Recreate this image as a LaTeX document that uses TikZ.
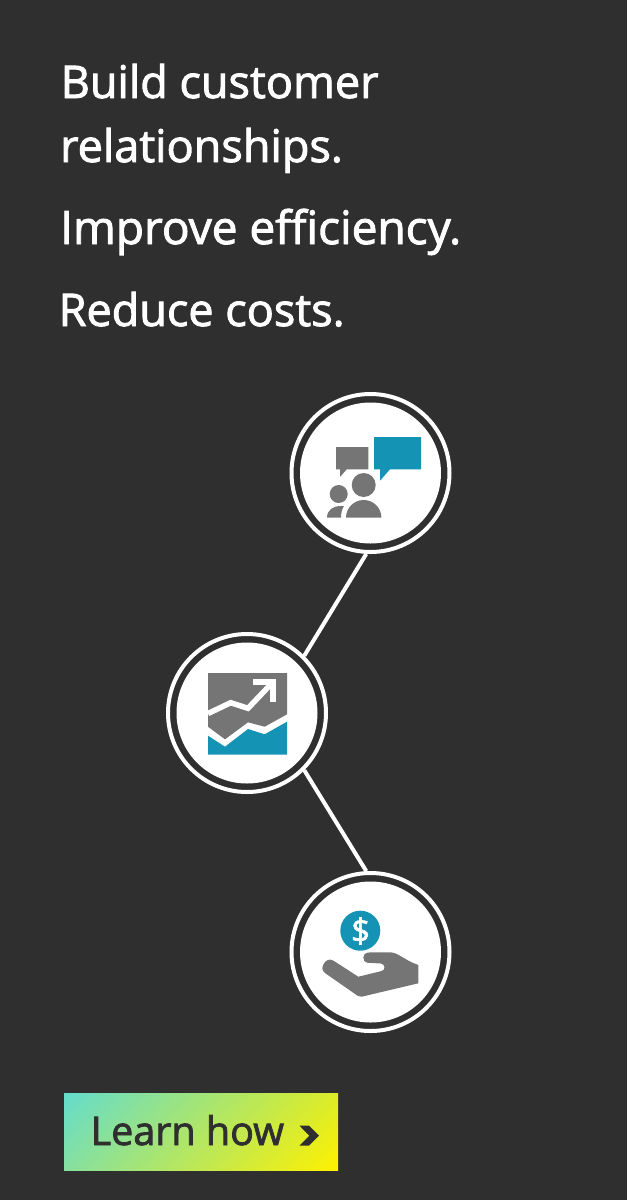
\documentclass[tikz,border=0pt]{standalone}
\usepackage{fontspec}
\usetikzlibrary{shadings}
\setmainfont{Open Sans}[FakeBold=2]
\newfontfamily\dollarfont{Open Sans}[FakeBold=2]
\definecolor{bg}{RGB}{47,47,47}
\definecolor{iconblue}{RGB}{20,147,181}
\definecolor{icongray}{RGB}{117,117,117}
\definecolor{gUL}{RGB}{100,220,205}
\definecolor{gUR}{RGB}{220,236,40}
\definecolor{gLL}{RGB}{133,224,160}
\definecolor{gLR}{RGB}{255,241,0}
\tikzset{
  ring/.style={circle,draw=white,line width=4pt,fill=bg,inner sep=0pt,minimum size=158pt},
  disc/.style={circle,fill=white,inner sep=0pt,minimum size=141pt},
  link/.style={draw=white,line width=4pt},
  title/.style={anchor=base west,text=white,inner sep=0pt,font=\fontsize{45}{45}\selectfont},
  gicon/.style={fill=icongray},
  bicon/.style={fill=iconblue}
}
\begin{document}
\begin{tikzpicture}[x=1pt,y=-1pt]
\useasboundingbox (0,0) rectangle (627,1200);
\fill[bg] (0,0) rectangle (627,1200);
\node[title] (t1) at (60.5,98) {Build customer};
\node[title] (t2) at (60,162) {relationships.};
\node[title,font=\fontsize{46}{46}\selectfont] (t3) at (60,244) {Improve efficiency.};
\node[title] (t4) at (58.5,326) {Reduce costs.};
\node[ring] (c1) at (370.5,473) {};
\node[ring] (c2) at (247,713) {};
\node[ring] (c3) at (370.5,952) {};
\node[disc] (d1) at (c1) {};
\node[disc] (d2) at (c2) {};
\node[disc] (d3) at (c3) {};
\draw[link] (c1.-93) -- (c2.45);
\draw[link] (c2.-45) -- (c3.93);
% icon 1
\fill[bicon] (374,437) -- (421,437) -- (421,469.3) -- (390,469.3) -- (380,480.7) -- (380,469.3) -- (374,469.3) -- cycle;
\fill[gicon] (336,447) -- (368.3,447) -- (368.3,469.3) -- (346.7,469.3) -- (340,477) -- (340,469.3) -- (336,469.3) -- cycle;
\fill[gicon] (363.7,485) circle (12);
\fill[gicon] (346,517.7) arc[start angle=180,end angle=360,x radius=17.7,y radius=17.7] -- cycle;
\fill[gicon] (338.7,494) circle (9);
\fill[gicon] (327,517.7) .. controls (327,510) and (333,506) .. (341,506) -- (344,506) .. controls (342,509) and (341,513) .. (341,517.7) -- cycle;
% icon 2
\fill[gicon] (208,673) -- (287,673) -- (287,714.3) -- (264.7,726.7) -- (248,722.3) -- (225,739.3) -- (208,726.7) -- cycle;
\fill[bicon] (208,735.7) -- (225,746.7) -- (248,729) -- (264.7,734.3) -- (287,721.7) -- (287,754.7) -- (208,754.7) -- cycle;
\draw[white,line width=5.5pt] (208,713.5) -- (230.7,702.7) -- (248,708.3) -- (273,682);
\draw[white,line width=6pt,miter limit=10] (253,681.7) -- (273,681.7) -- (273,702);
% icon 3
\fill[bicon] (360.3,930.7) circle (20);
\node[text=white,inner sep=0pt,font=\dollarfont\fontsize{33}{33}\selectfont] (dollar) at (360.6,931) {\$};
\fill[gicon] (418.3,965) -- (418.3,983.3) -- (361.7,996.7) .. controls (360,997) and (359,996.5) .. (358,996) -- (325,973) .. controls (321,970) and (322,966) .. (325,962) .. controls (328,959) and (331,959) .. (334,961) -- (358.3,976.7) -- (381.7,971) .. controls (386,970) and (385,964) .. (381,963.5) -- (367,962.7) .. controls (362,962) and (362,952.5) .. (368,952.5) -- (390,952.3) .. controls (398,952.3) and (404,960) .. cycle;
% button
\shade[upper left=gUL,upper right=gUR,lower left=gLL,lower right=gLR] (64,1093) rectangle (338,1170);
\node[anchor=base west,text=bg,inner sep=0pt,font=\fontsize{39.5}{39.5}\selectfont] (learn) at (90.5,1145) {Learn how};
\fill[bg] (299.5,1125.7) -- (309,1125.7) -- (319,1135.7) -- (309,1145.7) -- (299.5,1145.7) -- (309.3,1135.7) -- cycle;
\end{tikzpicture}
\end{document}
